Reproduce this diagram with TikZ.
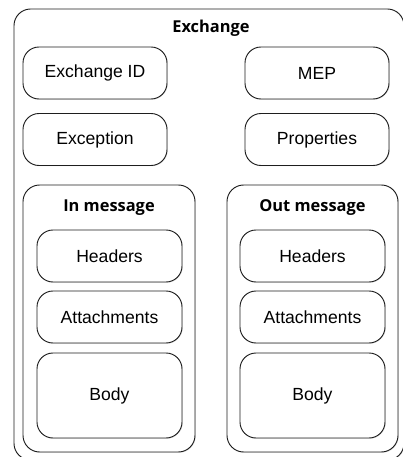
\documentclass[tikz,border=0pt]{standalone}
\usepackage{fontspec}
\setmainfont{Liberation Sans}
\newfontfamily\titlefont{Open Sans}
\usetikzlibrary{positioning, shapes.misc, shadows}
\definecolor{linegray}{RGB}{30,30,30}

\begin{document}
\begin{tikzpicture}[x=0.03cm, y=-0.03cm, font=\fontsize{15}{17}\selectfont]
      % Styles
      \tikzset{field/.style={draw=linegray, line width=0.8pt, rounded corners=0.48cm, fill=white,
          drop shadow={opacity=0.25, shadow xshift=0.6pt, shadow yshift=-0.6pt},
          minimum width=4.32cm, minimum height=1.56cm, inner sep=0pt, align=center}}
      \tikzset{container/.style={draw=linegray, line width=0.8pt, rounded corners=0.5cm, fill=white,
          drop shadow={opacity=0.25, shadow xshift=0.6pt, shadow yshift=-0.6pt}, inner sep=0pt}}
      \tikzset{heading/.style={font=\titlefont\bfseries\fontsize{14}{16}\selectfont}}

      % --- Frame ---
      \useasboundingbox (0,0) rectangle (403,457);
      \clip (0,0) rectangle (403,457);

      % Exchange at the back
      \node[container, minimum width=11.7cm, minimum height=13.53cm] (exchange) at (209,234.5) {};
      \node[heading] (exchange_title) at (211,28) {Exchange};

      % Fields of the exchange
      \node[field] (exchange_id) at (95,73) {Exchange ID};
      \node[field] (mep) at (317,73) {MEP};
      \node[field] (exception) at (95,139.5) {Exception};
      \node[field] (properties) at (317,139.5) {Properties};

      % --- In message on the left ---
      \node[container, minimum width=5.16cm, minimum height=8.01cm] (in_msg) at (109,318.5) {};
      \node[heading] (in_title) at (109,208) {In message};
      \node[field, minimum width=4.35cm] (in_headers) at (109.5,256) {Headers};
      \node[field, minimum width=4.35cm] (in_attach) at (109.5,317) {Attachments};
      \node[field, minimum width=4.35cm, minimum height=2.55cm] (in_body) at (109.5,395.5) {Body};

      % --- Out message on the right ---
      \node[container, minimum width=5.13cm, minimum height=8.01cm] (out_msg) at (312.5,318.5) {};
      \node[heading] (out_title) at (312.5,208) {Out message};
      \node[field, minimum width=4.35cm] (out_headers) at (312.5,256) {Headers};
      \node[field, minimum width=4.35cm] (out_attach) at (312.5,317) {Attachments};
      \node[field, minimum width=4.35cm, minimum height=2.55cm] (out_body) at (312.5,395.5) {Body};

    \end{tikzpicture}
\end{document}
